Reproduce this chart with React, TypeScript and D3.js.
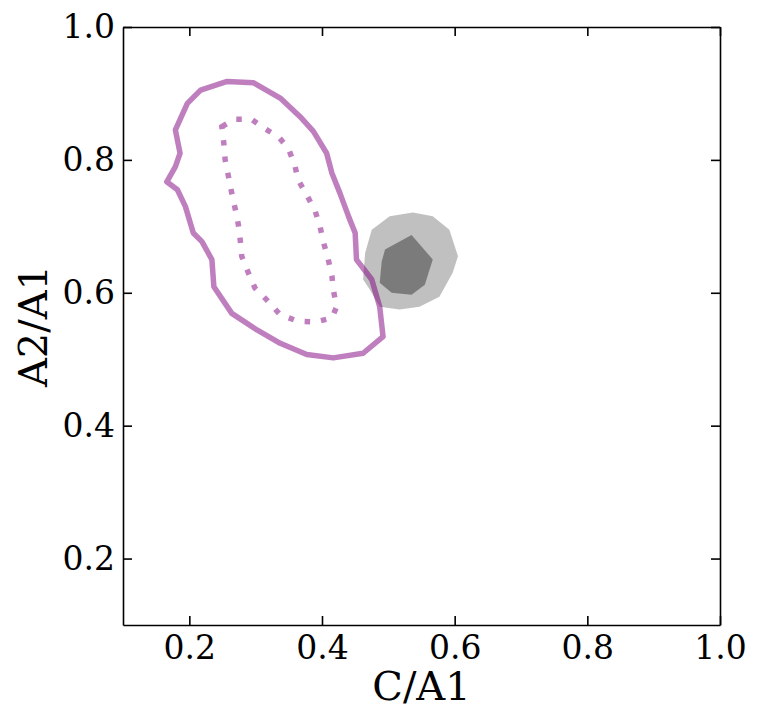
import { useEffect, useRef } from 'react';
import * as d3 from 'd3';

type Pt = [number, number];

// purple contours (x = C/A1, y = A2/A1)
const outerContour: Pt[] = [
    [0.257, 0.918], [0.297, 0.916], [0.337, 0.893], [0.367, 0.865], [0.387, 0.843],
    [0.407, 0.81], [0.415, 0.78], [0.427, 0.75], [0.44, 0.715], [0.45, 0.69],
    [0.452, 0.65], [0.475, 0.62], [0.487, 0.579], [0.492, 0.534], [0.462, 0.509],
    [0.417, 0.502], [0.377, 0.507], [0.337, 0.524], [0.302, 0.544], [0.264, 0.569],
    [0.237, 0.609], [0.234, 0.65], [0.219, 0.677], [0.206, 0.69], [0.194, 0.73],
    [0.182, 0.755], [0.166, 0.767], [0.179, 0.79], [0.186, 0.81], [0.179, 0.845],
    [0.197, 0.885], [0.217, 0.905],
];

const innerContour: Pt[] = [
    [0.249, 0.85], [0.267, 0.861], [0.294, 0.861], [0.312, 0.848], [0.334, 0.835],
    [0.349, 0.818], [0.359, 0.792], [0.364, 0.77], [0.377, 0.747], [0.389, 0.725],
    [0.397, 0.7], [0.402, 0.677], [0.409, 0.652], [0.415, 0.625], [0.417, 0.605],
    [0.422, 0.579], [0.415, 0.562], [0.389, 0.556], [0.364, 0.557], [0.337, 0.567],
    [0.317, 0.589], [0.299, 0.607], [0.289, 0.63], [0.279, 0.655], [0.277, 0.677],
    [0.274, 0.702], [0.269, 0.727], [0.264, 0.75], [0.259, 0.775], [0.254, 0.8],
    [0.252, 0.825],
];

// grey filled regions
const greyOuter: Pt[] = [
    [0.475, 0.695], [0.502, 0.715], [0.537, 0.721], [0.567, 0.715], [0.592, 0.695],
    [0.605, 0.655], [0.597, 0.63], [0.577, 0.594], [0.547, 0.579], [0.517, 0.575],
    [0.487, 0.579], [0.472, 0.605], [0.462, 0.62], [0.465, 0.66],
];

const greyInner: Pt[] = [
    [0.495, 0.665], [0.535, 0.687], [0.567, 0.65], [0.555, 0.612], [0.535, 0.597],
    [0.505, 0.6], [0.487, 0.615], [0.49, 0.647],
];

const xTicks = [0.2, 0.4, 0.6, 0.8, 1.0];
const yTicks = [0.2, 0.4, 0.6, 0.8, 1.0];

const width = 760;
const height = 711;
const margin = { top: 27, right: 40, bottom: 86, left: 123 };
const font = 'DejaVu Serif, serif';

const App = () => {
    const svgRef = useRef<SVGSVGElement>(null);

    useEffect(() => {
        const svg = d3.select(svgRef.current);
        svg.selectAll('*').remove();

        const x = d3.scaleLinear().domain([0.1, 1.0]).range([margin.left, width - margin.right]);
        const y = d3.scaleLinear().domain([0.1, 1.0]).range([height - margin.bottom, margin.top]);

        const line = d3
            .line<Pt>()
            .x(d => x(d[0]))
            .y(d => y(d[1]))
            .curve(d3.curveLinearClosed);

        const plot = svg.append('g');

        plot.append('path').attr('d', line(greyOuter)).attr('fill', '#c0c0c0');
        plot.append('path').attr('d', line(greyInner)).attr('fill', '#7b7b7b');

        plot.append('path')
            .attr('d', line(outerContour))
            .attr('fill', 'none')
            .attr('stroke', 'purple')
            .attr('stroke-opacity', 0.5)
            .attr('stroke-width', 5.5)
            .attr('stroke-linejoin', 'round');

        plot.append('path')
            .attr('d', line(innerContour))
            .attr('fill', 'none')
            .attr('stroke', 'purple')
            .attr('stroke-opacity', 0.5)
            .attr('stroke-width', 5.5)
            .attr('stroke-dasharray', '5.5,11');

        const tickLen = 9;
        const fmt = d3.format('.1f');

        // axes with inward ticks on all sides
        const bottom = svg.append('g').attr('transform', `translate(0,${height - margin.bottom})`)
            .call(d3.axisBottom(x).tickValues(xTicks).tickSize(-tickLen).tickPadding(11).tickFormat(d => fmt(d as number)).tickSizeOuter(0));
        const top = svg.append('g').attr('transform', `translate(0,${margin.top})`)
            .call(d3.axisTop(x).tickValues(xTicks).tickSize(-tickLen).tickFormat(() => '').tickSizeOuter(0));
        const left = svg.append('g').attr('transform', `translate(${margin.left},0)`)
            .call(d3.axisLeft(y).tickValues(yTicks).tickSize(-tickLen).tickPadding(8).tickFormat(d => fmt(d as number)).tickSizeOuter(0));
        const right = svg.append('g').attr('transform', `translate(${width - margin.right},0)`)
            .call(d3.axisRight(y).tickValues(yTicks).tickSize(-tickLen).tickFormat(() => '').tickSizeOuter(0));

        [bottom, top, left, right].forEach(g => {
            g.selectAll('.domain').attr('stroke', '#000').attr('stroke-width', 1.6);
            g.selectAll('.tick line').attr('stroke', '#000').attr('stroke-width', 1.6);
            g.selectAll('.tick text').attr('font-family', font).attr('font-size', 33).attr('fill', '#000');
        });

        svg.append('text')
            .attr('x', (margin.left + width - margin.right) / 2)
            .attr('y', 700)
            .attr('text-anchor', 'middle')
            .attr('font-family', font)
            .attr('font-size', 40)
            .text('C/A1');

        svg.append('text')
            .attr('transform', `translate(47,${(margin.top + height - margin.bottom) / 2}) rotate(-90)`)
            .attr('text-anchor', 'middle')
            .attr('font-family', font)
            .attr('font-size', 40)
            .text('A2/A1');
    }, []);

    return (
        <svg
            ref={svgRef}
            width={width}
            height={height}
            style={{ position: 'absolute', left: 0, top: 0, background: '#fff' }}
        />
    );
};

export default App;
